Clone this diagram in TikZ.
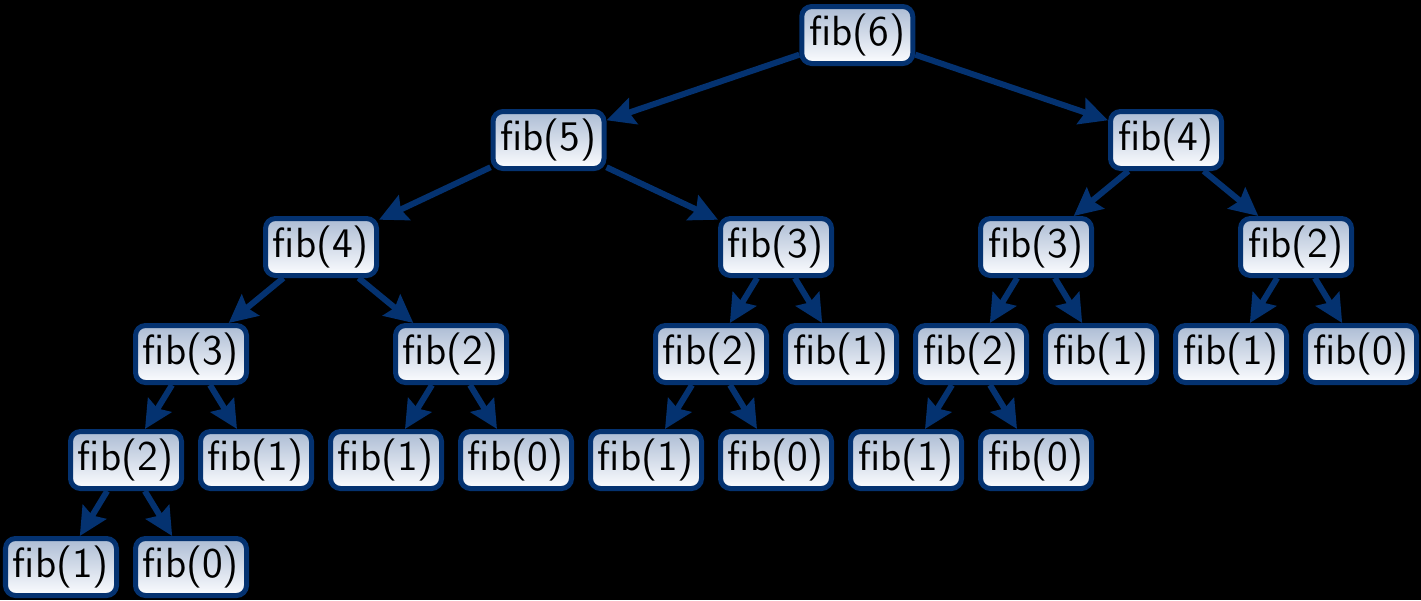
\documentclass[tikz,border=0pt]{standalone}
\usetikzlibrary{arrows.meta}
\definecolor{fibborder}{RGB}{4,50,112}
\definecolor{fibtop}{RGB}{172,188,212}
\definecolor{fibbot}{RGB}{252,253,255}
\tikzset{
  fibnode/.style={draw=fibborder, line width=0.05cm, rounded corners=0.1cm,
    top color=fibtop, bottom color=fibbot, minimum width=1.11cm, minimum height=0.57cm,
    inner sep=0pt, text=black, font=\sffamily\fontsize{12}{14}\selectfont},
  fibedge/.style={draw=fibborder, line width=0.06cm,
    -{Stealth[length=0.28cm,width=0.27cm,inset=0.04cm]}, shorten >=0pt}
}
\begin{document}
\begin{tikzpicture}
\fill[black] (0,0) rectangle (14.21,-6.00);
\useasboundingbox (0,0) rectangle (14.21,-6.00);
% level 0
\node[fibnode] (a) at (8.5725,-0.35) {fib(6)};
% level 1
\node[fibnode] (b) at (5.485,-1.40) {fib(5)};
\node[fibnode] (c) at (11.66,-1.40) {fib(4)};
% level 2
\node[fibnode] (d) at (3.21,-2.47) {fib(4)};
\node[fibnode] (e) at (7.76,-2.47) {fib(3)};
\node[fibnode] (f) at (10.36,-2.47) {fib(3)};
\node[fibnode] (g) at (12.96,-2.47) {fib(2)};
% level 3
\node[fibnode] (h) at (1.91,-3.54) {fib(3)};
\node[fibnode] (i) at (4.51,-3.54) {fib(2)};
\node[fibnode] (j) at (7.11,-3.54) {fib(2)};
\node[fibnode] (k) at (8.41,-3.54) {fib(1)};
\node[fibnode] (l) at (9.71,-3.54) {fib(2)};
\node[fibnode] (m) at (11.01,-3.54) {fib(1)};
\node[fibnode] (n) at (12.31,-3.54) {fib(1)};
\node[fibnode] (o) at (13.61,-3.54) {fib(0)};
% level 4
\node[fibnode] (p) at (1.26,-4.60) {fib(2)};
\node[fibnode] (q) at (2.56,-4.60) {fib(1)};
\node[fibnode] (r) at (3.86,-4.60) {fib(1)};
\node[fibnode] (s) at (5.16,-4.60) {fib(0)};
\node[fibnode] (t) at (6.46,-4.60) {fib(1)};
\node[fibnode] (u) at (7.76,-4.60) {fib(0)};
\node[fibnode] (v) at (9.06,-4.60) {fib(1)};
\node[fibnode] (w) at (10.36,-4.60) {fib(0)};
% level 5
\node[fibnode] (x) at (0.61,-5.67) {fib(1)};
\node[fibnode] (y) at (1.91,-5.67) {fib(0)};
% edges
\draw[fibedge] (a) -- (b);
\draw[fibedge] (a) -- (c);
\draw[fibedge] (b) -- (d);
\draw[fibedge] (b) -- (e);
\draw[fibedge] (c) -- (f);
\draw[fibedge] (c) -- (g);
\draw[fibedge] (d) -- (h);
\draw[fibedge] (d) -- (i);
\draw[fibedge] (e) -- (j);
\draw[fibedge] (e) -- (k);
\draw[fibedge] (f) -- (l);
\draw[fibedge] (f) -- (m);
\draw[fibedge] (g) -- (n);
\draw[fibedge] (g) -- (o);
\draw[fibedge] (h) -- (p);
\draw[fibedge] (h) -- (q);
\draw[fibedge] (i) -- (r);
\draw[fibedge] (i) -- (s);
\draw[fibedge] (j) -- (t);
\draw[fibedge] (j) -- (u);
\draw[fibedge] (l) -- (v);
\draw[fibedge] (l) -- (w);
\draw[fibedge] (p) -- (x);
\draw[fibedge] (p) -- (y);
\end{tikzpicture}
\end{document}
